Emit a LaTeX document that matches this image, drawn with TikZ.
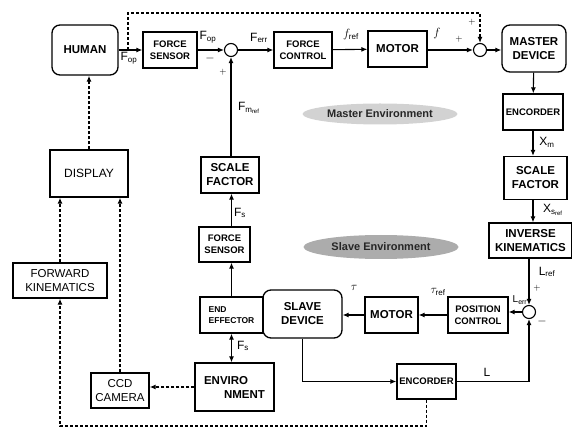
\documentclass[tikz,border=0pt]{standalone}
\usepackage{fontspec}
\setmainfont{Liberation Sans}
\usetikzlibrary{arrows.meta,shapes.geometric,calc}

\tikzset{
  blk/.style={draw, line width=1.3pt, align=center, inner sep=1pt,
    font=\bfseries\fontsize{11.5}{14}\selectfont},
  smallblk/.style={blk, font=\bfseries\fontsize{9.5}{12}\selectfont},
  dev/.style={blk, rounded corners=8pt},
  sumpt/.style={draw, circle, line width=1.1pt, minimum size=13pt, inner sep=0pt},
  sig/.style={line width=1.1pt, ->},
  sigdash/.style={line width=1.2pt, dash pattern=on 3pt off 2pt, ->},
  lab/.style={inner sep=0pt, font=\fontsize{12}{12}\selectfont},
  envell/.style={ellipse, minimum width=155pt, minimum height=21pt, inner sep=0pt,
    font=\bfseries\fontsize{11}{12}\selectfont}
}

\begin{document}
\begin{tikzpicture}[x=1pt, y=-1pt, >={Latex[length=6pt,width=5pt]}]
  \useasboundingbox (0,0) rectangle (572,427);

  % Master side
  \node[dev, minimum width=66pt, minimum height=50pt] (human) at (85,50) {HUMAN};
  \node[smallblk, minimum width=54pt, minimum height=36pt] (fsensA) at (170,50) {FORCE\\SENSOR};
  \node[sumpt] (sumA) at (231,50) {};
  \node[smallblk, minimum width=58pt, minimum height=36pt] (fctrl) at (303,50) {FORCE\\CONTROL};
  \node[blk, minimum width=59pt, minimum height=36pt] (motorA) at (397.5,49) {MOTOR};
  \node[sumpt] (sumB) at (480,50) {};
  \node[dev, minimum width=64pt, minimum height=47pt] (master) at (534,48.5) {MASTER\\DEVICE};
  \node[smallblk, minimum width=60pt, minimum height=36pt] (encA) at (533,112) {ENCORDER};
  \node[blk, minimum width=63pt, minimum height=43pt] (scaleB) at (535.5,178) {SCALE\\FACTOR};
  \node[blk, minimum width=83pt, minimum height=35pt] (invkin) at (530.5,240.5) {INVERSE\\KINEMATICS};

  % Slave side
  \node[sumpt] (sumC) at (529,312) {};
  \node[smallblk, minimum width=60pt, minimum height=36pt] (posctrl) at (478,315) {POSITION\\CONTROL};
  \node[blk, minimum width=53pt, minimum height=36pt] (motorB) at (391.5,315) {MOTOR};
  \node[dev, minimum width=79pt, minimum height=48pt] (slave) at (302.5,314) {SLAVE\\DEVICE};
  \node[smallblk, minimum width=63pt, minimum height=36pt, font=\bfseries\fontsize{8.5}{11}\selectfont, align=left] (endeff) at (231.5,315) {END\\EFFECTOR};
  \node[blk, minimum width=79pt, minimum height=48pt, align=left] (env) at (234.5,387) {ENVIRO\\\hspace*{20pt}NMENT};
  \node[blk, minimum width=58pt, minimum height=35pt, font=\fontsize{11.5}{14}\selectfont] (ccd) at (120,390.5) {CCD\\CAMERA};
  \node[smallblk, minimum width=59pt, minimum height=35pt] (encB) at (426.5,381.5) {ENCORDER};
  \node[smallblk, minimum width=51pt, minimum height=35pt] (fsensB) at (224.5,244.5) {FORCE\\SENSOR};
  \node[blk, minimum width=58pt, minimum height=36pt] (scaleA) at (230,175) {SCALE\\FACTOR};

  % Visual side
  \node[blk, minimum width=78pt, minimum height=47pt, font=\fontsize{12}{14}\selectfont] (display) at (89,173.5) {DISPLAY};
  \node[blk, minimum width=94pt, minimum height=35pt, font=\fontsize{11.5}{14}\selectfont] (fwdkin) at (60,280.5) {FORWARD\\KINEMATICS};

  % Environment labels
  \node[envell, fill=gray!35, text=black!85] (menv) at (380,114) {Master Environment};
  \node[envell, fill=gray!65, text=black!85, minimum height=24pt] (senv) at (381,247) {Slave Environment};

  % master loop
  \coordinate (tap) at (128,50);
  \coordinate (topline) at (0,13);
  \coordinate (botline) at (0,426);
  \draw[sig] (human) -- (fsensA);
  \draw[sigdash] (tap) -- (tap |- topline) -| (sumB.north);
  \draw[sig] (fsensA) -- (sumA);
  \draw[sig] (sumA) -- (fctrl);
  \draw[sig] (fctrl) -- (motorA);
  \draw[sig] (motorA.east |- sumB) -- (sumB);
  \draw[sig] (sumB) -- (master.west |- sumB);
  \draw[sig] (master) -- (encA);
  \draw[sig] (encA) -- (scaleB.north -| encA);
  \draw[sig] (scaleB.south -| encA) -- (invkin.north -| encA);
  \draw[sig] (invkin.south -| sumC) -- (sumC);

  % slave loop
  \draw[sig] (sumC) -- (posctrl.east |- sumC);
  \draw[sig] (posctrl) -- (motorB);
  \draw[sig] (motorB) -- (slave.east |- motorB);
  \draw[sig] (slave.south) |- (encB.west);
  \draw[sig] (encB.east) -| (sumC.south);
  \draw[line width=1.1pt, <->] (endeff.south) -- (endeff.south |- env.north);
  \draw[sig] (endeff.north) -- (endeff.north |- fsensB.south);
  \draw[sig] (fsensB.north -| endeff.north) -- (scaleA.south -| endeff.north);
  \draw[sig] (scaleA.north -| sumA) -- (sumA.south);

  % visual feedback
  \draw[sigdash] (encB.south) -- (encB.south |- botline) -| (fwdkin.south);
  \draw[sigdash] (fwdkin.north) -- (fwdkin.north |- display.south);
  \draw[sigdash] (ccd.north) -- (ccd.north |- display.south);
  \draw[sigdash] (env.west) -- (env.west -| ccd.east);
  \draw[sigdash] (display.north) -- (display.north |- human.south);

  % signal labels
  \node[lab] (fop1) at (129,58) {$\mathrm{F}_{\mathrm{op}}$};
  \node[lab] (fop2) at (208,37) {$\mathrm{F}_{\mathrm{op}}$};
  \node[lab] (mA) at (210,59) {$-$};
  \node[lab, font=\fontsize{9}{9}\selectfont] (pA) at (223,72) {$+$};
  \node[lab] (fmref) at (249,108) {$\mathrm{F}_{\mathrm{m}_{\mathrm{ref}}}$};
  \node[lab] (ferr) at (259,38) {$\mathrm{F}_{\mathrm{err}}$};
  \node[lab] (fref) at (351,35) {$f_{\mathrm{ref}}$};
  \node[lab] (fsig) at (437,34) {$f$};
  \node[lab, font=\fontsize{9}{9}\selectfont] (pB1) at (459,39) {$+$};
  \node[lab, font=\fontsize{9}{9}\selectfont] (pB2) at (472,22) {$+$};
  \node[lab] (xm) at (547,142) {$\mathrm{X}_{\mathrm{m}}$};
  \node[lab] (xsref) at (553,210) {$\mathrm{X}_{\mathrm{s}_{\mathrm{ref}}}$};
  \node[lab] (lref) at (547,272) {$\mathrm{L}_{\mathrm{ref}}$};
  \node[lab, font=\fontsize{9}{9}\selectfont] (pC) at (537,288) {$+$};
  \node[lab, font=\fontsize{10}{10}\selectfont] (lerr) at (520,300) {$\mathrm{L}_{\mathrm{err}}$};
  \node[lab] (mC) at (542,321) {$-$};
  \node[lab] (tauref) at (438,292) {$\tau_{\mathrm{ref}}$};
  \node[lab] (tau) at (354,288) {$\tau$};
  \node[lab] (lsig) at (487,372) {L};
  \node[lab] (fs1) at (240,213) {$\mathrm{F}_{\mathrm{s}}$};
  \node[lab] (fs2) at (243,346) {$\mathrm{F}_{\mathrm{s}}$};
\end{tikzpicture}
\end{document}
